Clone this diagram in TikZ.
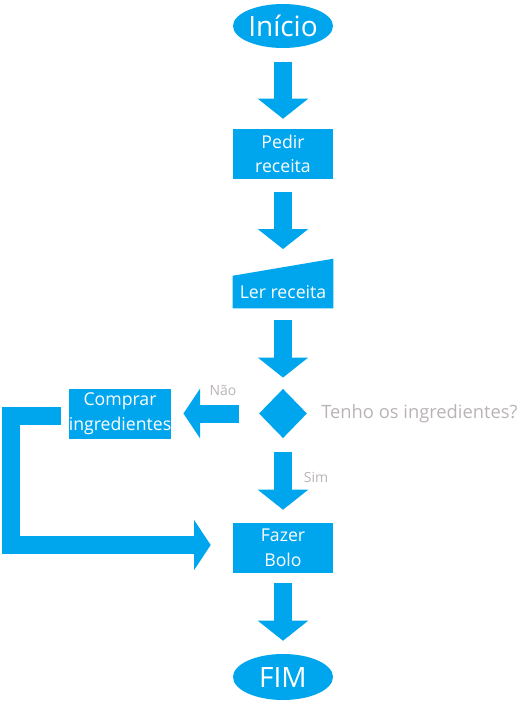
\documentclass[tikz,border=0pt]{standalone}
\usepackage{fontspec}
\setmainfont{Open Sans}
\usepackage{tikz}
\usetikzlibrary{arrows.meta, positioning, shapes.geometric, backgrounds}
\usepackage{xcolor}
\definecolor{flowblue}{RGB}{0, 166, 237}
\definecolor{labelgray}{RGB}{185, 180, 180}

\begin{document}
\begin{tikzpicture}[
    x=0.75pt, y=-0.75pt,
    every node/.style={font=\fontsize{13.25}{18.5}\selectfont},
    terminal/.style={ellipse, fill=flowblue, text=white, inner sep=0pt,
      minimum width=75pt, minimum height=33pt,
      font=\fontsize{21}{24}\selectfont},
    box/.style={rectangle, fill=flowblue, text=white, inner sep=0pt,
      minimum width=75pt, minimum height=37.5pt, align=center},
    decision/.style={diamond, fill=flowblue, inner sep=0pt,
      minimum width=36pt, minimum height=37pt},
    answer/.style={text=labelgray, font=\fontsize{10.5}{12}\selectfont},
    bigarrow/.style={flowblue, line width=13.5pt,
      -{Triangle[length=15pt, width=37pt]}},
    sidearrow/.style={bigarrow, -{Triangle[length=12.5pt, width=37pt]}}
  ]
    \useasboundingbox (0,0) rectangle (518,703);

    % Start and end
    \node[terminal] (start) at (283,26) {Início};
    \node[terminal, minimum height=34.5pt] (stop) at (283,677) {FIM};

    % Steps
    \node[box] (pedir) at (283,154) {Pedir\\receita};
    \node[box, minimum height=24pt] (ler) at (283,292) {Ler receita};
    \node[box] (comprar) at (120,413.5) {Comprar\\ingredientes};
    \node[box] (fazer) at (283,548) {Fazer\\Bolo};

    % Manual input shape behind "Ler receita"
    \begin{scope}[on background layer]
      \fill[flowblue] (ler.south west) -- (ler.south east)
        -- ([yshift=12.75pt]ler.north east) -- (ler.north west) -- cycle;
    \end{scope}

    % Decision
    \node[decision] (dec) at (283,413.5) {};
    \node[text=labelgray, font=\fontsize{13.75}{16}\selectfont,
          right=7pt of dec] (question) {Tenho os ingredientes?};

    % Main flow
    \draw[bigarrow, shorten <=10.5pt, shorten >=7.5pt] (start) -- (pedir);
    \draw[bigarrow, shorten <=9.75pt, shorten >=20pt] (pedir) -- (ler);
    \draw[bigarrow, shorten <=9pt, shorten >=8.25pt] (ler) -- (dec);
    \draw[bigarrow, shorten <=10.5pt, shorten >=9.75pt] (dec) -- (fazer);
    \draw[bigarrow, shorten <=7.5pt, shorten >=9.75pt] (fazer) -- (stop);

    % Branch "Não"
    \draw[sidearrow, shorten <=15pt, shorten >=9pt] (dec) -- (comprar);
    \node[answer] (nao) at (223,390) {Não};
    \node[answer] (sim) at (316,477) {Sim};

    % Loop back to "Fazer Bolo"
    \coordinate (loop) at (10.5,545);
    \draw[sidearrow, line join=miter, shorten <=6pt, shorten >=16.5pt]
      ([yshift=-1.5pt]comprar.west) -| (loop) -- (loop -| fazer.west);
\end{tikzpicture}
\end{document}
